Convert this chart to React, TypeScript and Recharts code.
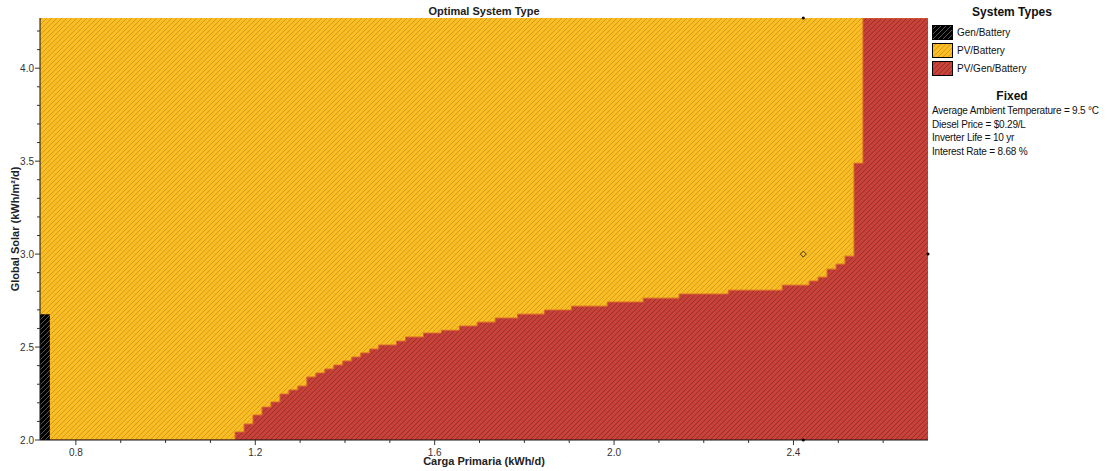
import { Area, CartesianGrid, ComposedChart, ReferenceDot, Scatter, XAxis, YAxis } from "recharts";

// Carga Primaria (kWh/d) where the optimal type changes
const loads = [
  0.72, 0.742, 1.155, 1.175, 1.195, 1.215, 1.235, 1.255, 1.275, 1.295, 1.315, 1.335,
  1.355, 1.375, 1.395, 1.415, 1.435, 1.455, 1.475, 1.515, 1.535, 1.575, 1.615, 1.655,
  1.695, 1.735, 1.785, 1.845, 1.905, 1.985, 2.065, 2.145, 2.255, 2.375, 2.435, 2.455,
  2.475, 2.495, 2.515, 2.535, 2.555, 2.7,
];
// upper edge of the PV/Gen/Battery region (Global Solar, kWh/m²/d)
const pvGenTop = [
  2.0, 2.0, 2.043, 2.086, 2.134, 2.177, 2.204, 2.247, 2.269, 2.29, 2.339, 2.36,
  2.382, 2.403, 2.425, 2.446, 2.468, 2.489, 2.511, 2.532, 2.554, 2.575, 2.59, 2.613,
  2.634, 2.656, 2.677, 2.699, 2.72, 2.742, 2.763, 2.785, 2.806, 2.833, 2.855, 2.876,
  2.919, 2.946, 2.989, 3.489, 4.27, 4.27,
];
// Gen/Battery strip on the left edge
const genLoads = [0.72, 0.742];
const genTop = [2.677, 2.677];

const current = [{ load: 2.422, solar: 3.0 }];

const xTicks = [0.8, 0.9, 1.0, 1.1, 1.2, 1.3, 1.4, 1.5, 1.6, 1.7, 1.8, 1.9, 2.0, 2.1, 2.2, 2.3, 2.4, 2.5, 2.6];
const xLabels = [0.8, 1.2, 1.6, 2.0, 2.4];
const yTicks = [2.0, 2.1, 2.2, 2.3, 2.4, 2.5, 2.6, 2.7, 2.8, 2.9, 3.0, 3.1, 3.2, 3.3, 3.4, 3.5, 3.6, 3.7, 3.8, 3.9, 4.0, 4.1, 4.2];
const yLabels = [2.0, 2.5, 3.0, 3.5, 4.0];

const systemTypes = [
  { name: "Gen/Battery", fill: "url(#blackHatch)" },
  { name: "PV/Battery", fill: "url(#yellowHatch)" },
  { name: "PV/Gen/Battery", fill: "url(#redHatch)" },
];
const fixedLines = [
  "Average Ambient Temperature = 9.5 °C",
  "Diesel Price = $0.29/L",
  "Inverter Life = 10 yr",
  "Interest Rate = 8.68 %",
];

const data = loads.map((load, i) => {
  const g = genLoads.indexOf(load);
  return { load, pvGen: pvGenTop[i], gen: g >= 0 ? genTop[g] : null };
});

const sans = "'Liberation Sans', Arial, sans-serif";

const isLabel = (list: number[], v: number) => list.some((l) => Math.abs(l - v) < 1e-6);

function XTick({ x, y, payload }: any) {
  const major = isLabel(xLabels, payload.value);
  return (
    <g>
      <line x1={x} x2={x} y1={y} y2={y + (major ? 5 : 3)} stroke="#333" />
      {major && (
        <text x={x} y={y + 16} textAnchor="middle" fontSize={10} fontFamily={sans} fill="#333">
          {payload.value.toFixed(1)}
        </text>
      )}
    </g>
  );
}

function YTick({ x, y, payload }: any) {
  const major = isLabel(yLabels, payload.value);
  return (
    <g>
      <line x1={x - (major ? 5 : 3)} x2={x} y1={y} y2={y} stroke="#333" />
      {major && (
        <text x={x - 6} y={y + 4} textAnchor="end" fontSize={10} fontFamily={sans} fill="#333">
          {payload.value.toFixed(1)}
        </text>
      )}
    </g>
  );
}

function SmallDiamond({ cx, cy }: any) {
  return <path d={`M${cx},${cy - 3} L${cx + 3},${cy} L${cx},${cy + 3} L${cx - 3},${cy} Z`} fill="none" stroke="#4a3a10" />;
}

function Patterns() {
  return (
    <defs>
      <pattern id="yellowHatch" patternUnits="userSpaceOnUse" width="5" height="5">
        <rect width="5" height="5" fill="#FABE24" />
        <path d="M-1,1 L1,-1 M0,5 L5,0 M4,6 L6,4" stroke="#D49C1F" strokeWidth="1" />
      </pattern>
      <pattern id="redHatch" patternUnits="userSpaceOnUse" width="5" height="5">
        <rect width="5" height="5" fill="#C9423A" />
        <path d="M-1,1 L1,-1 M0,5 L5,0 M4,6 L6,4" stroke="#96302A" strokeWidth="1" />
      </pattern>
      <pattern id="blackHatch" patternUnits="userSpaceOnUse" width="5" height="5">
        <rect width="5" height="5" fill="#000" />
        <path d="M-1,1 L1,-1 M0,5 L5,0 M4,6 L6,4" stroke="#555" strokeWidth="1" />
      </pattern>
    </defs>
  );
}

export default function App() {
  return (
    <div style={{ position: "absolute", left: 0, top: 0, width: 1111, height: 471, background: "#fff" }}>
      <ComposedChart width={1111} height={471} data={data} margin={{ top: 18, right: 183, bottom: 0, left: 0 }}>
        <Patterns />
        <CartesianGrid horizontal={false} vertical={false} fill="url(#yellowHatch)" fillOpacity={1} />
        <XAxis
          dataKey="load"
          type="number"
          domain={[0.72, 2.7]}
          ticks={xTicks}
          interval={0}
          allowDataOverflow
          height={31}
          tickSize={0}
          tickMargin={0}
          tickLine={false}
          tick={<XTick />}
          axisLine={{ stroke: "#111" }}
        />
        <XAxis xAxisId="top" orientation="top" type="number" domain={[0.72, 2.7]} height={0} tick={false} tickLine={false} axisLine={{ stroke: "#111" }} />
        <YAxis
          type="number"
          domain={[2, 4.27]}
          ticks={yTicks}
          interval={0}
          allowDataOverflow
          width={40}
          tickSize={0}
          tickMargin={0}
          tickLine={false}
          tick={<YTick />}
          axisLine={{ stroke: "#111" }}
        />
        <YAxis yAxisId="right" orientation="right" type="number" domain={[2, 4.27]} width={0} tick={false} tickLine={false} axisLine={{ stroke: "#999" }} />
        <Area
          type="stepAfter"
          dataKey="pvGen"
          baseValue={2}
          fill="url(#redHatch)"
          fillOpacity={1}
          stroke="#D9662C"
          strokeWidth={1}
          isAnimationActive={false}
          dot={false}
          activeDot={false}
        />
        <Area
          type="stepAfter"
          dataKey="gen"
          baseValue={2}
          fill="url(#blackHatch)"
          fillOpacity={1}
          stroke="none"
          isAnimationActive={false}
          dot={false}
          activeDot={false}
        />
        <Scatter data={current} dataKey="solar" shape={<SmallDiamond />} isAnimationActive={false} />
        <ReferenceDot x={2.422} y={4.27} r={1.5} fill="#000" stroke="none" />
        <ReferenceDot x={2.422} y={2.0} r={1.5} fill="#000" stroke="none" />
        <ReferenceDot x={2.7} y={3.0} r={1.5} fill="#000" stroke="none" />
      </ComposedChart>

      <div style={{ position: "absolute", left: 384, top: 5, width: 200, textAlign: "center", font: `bold 11px ${sans}`, color: "#222" }}>
        Optimal System Type
      </div>
      <div style={{ position: "absolute", left: 384, top: 455, width: 200, textAlign: "center", font: `bold 11px ${sans}`, color: "#222" }}>
        Carga Primaria (kWh/d)
      </div>
      <div
        style={{
          position: "absolute",
          left: 15,
          top: 229,
          transform: "translate(-50%, -50%) rotate(-90deg)",
          whiteSpace: "nowrap",
          font: `bold 11px ${sans}`,
          color: "#222",
        }}
      >
        Global Solar (kWh/m²/d)
      </div>

      <div style={{ position: "absolute", left: 932, top: 5, width: 179, color: "#111" }}>
        <div style={{ width: 160, textAlign: "center", font: `bold 12px ${sans}`, height: 18 }}>System Types</div>
        {systemTypes.map((s) => (
          <div key={s.name} style={{ display: "flex", alignItems: "center", height: 18 }}>
            <svg width={21} height={15} style={{ display: "block" }}>
              <rect x={0.5} y={0.5} width={20} height={14} fill={s.fill} stroke="#000" />
            </svg>
            <span style={{ marginLeft: 4, font: `10px ${sans}` }}>{s.name}</span>
          </div>
        ))}
        <div style={{ width: 160, textAlign: "center", font: `bold 12px ${sans}`, marginTop: 12, height: 16 }}>Fixed</div>
        {fixedLines.map((t) => (
          <div key={t} style={{ font: `10px ${sans}`, letterSpacing: -0.2, height: 13.7, whiteSpace: "nowrap" }}>
            {t}
          </div>
        ))}
      </div>
    </div>
  );
}
